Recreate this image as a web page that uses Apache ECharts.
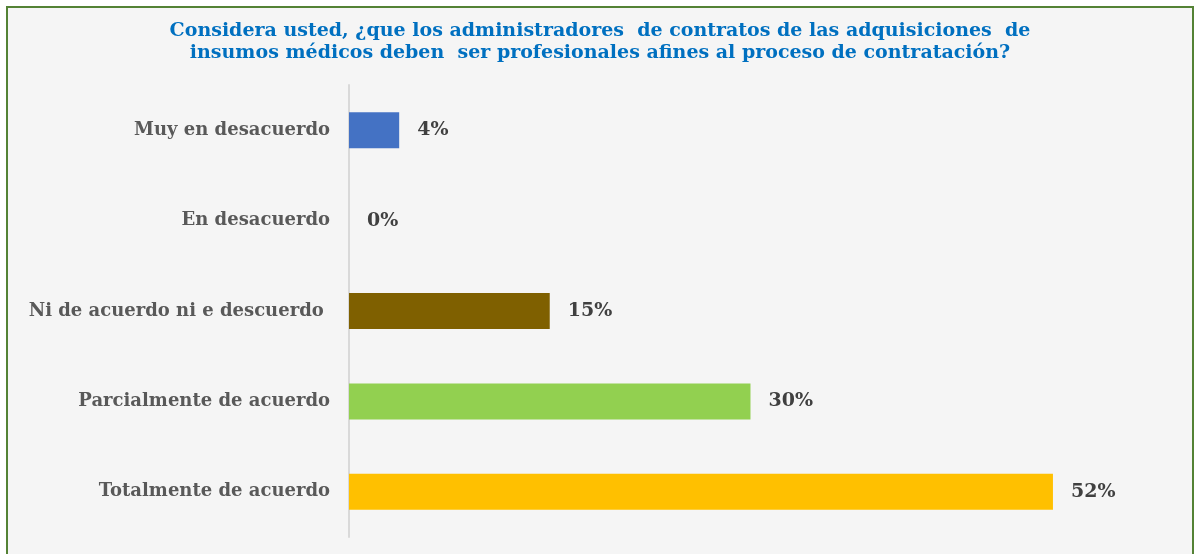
<!DOCTYPE html>
<html>
<head>
<meta charset="utf-8">
<script src="https://cdn.jsdelivr.net/npm/echarts@6/dist/echarts.min.js"></script>
<style>
  html, body { margin: 0; padding: 0; background: #ffffff; }
  #chart { width: 1200px; height: 554px; }
</style>
</head>
<body>
<div id="chart"></div>
<script>
var titleText = 'Considera usted, ¿que los administradores  de contratos de las adquisiciones  de\ninsumos médicos deben  ser profesionales afines al proceso de contratación?';
var categories = ['Muy en desacuerdo', 'En desacuerdo', 'Ni de acuerdo ni e descuerdo ', 'Parcialmente de acuerdo', 'Totalmente de acuerdo'];
var percents = [3.7, 0, 14.8, 29.6, 51.9];
var barColors = ['#4472c4', '#a5a5a5', '#7f6000', '#92d050', '#ffc000'];

var myChart = echarts.init(document.getElementById('chart'));

var seriesData = percents.map(function (v, i) {
    return { value: v, itemStyle: { color: barColors[i] } };
});

var option = {
    backgroundColor: '#ffffff',
    animation: false,
    graphic: [{
        type: 'rect',
        z: -10,
        shape: { x: 7, y: 7, width: 1186, height: 570 },
        style: { fill: '#f5f5f5', stroke: '#548235', lineWidth: 2 }
    }],
    title: {
        text: titleText,
        left: 'center',
        top: 15,
        textStyle: {
            fontFamily: 'DejaVu Serif',
            fontWeight: 'bold',
            fontSize: 19,
            lineHeight: 22,
            color: '#0070c0'
        }
    },
    grid: { left: 349, right: 105, top: 85, bottom: 17 },
    xAxis: {
        type: 'value',
        min: 0,
        max: 55,
        show: false
    },
    yAxis: {
        type: 'category',
        data: categories,
        inverse: true,
        axisLine: { show: true, lineStyle: { color: '#d9d9d9', width: 2 } },
        axisTick: { show: false },
        axisLabel: {
            margin: 19,
            fontFamily: 'DejaVu Serif',
            fontWeight: 'bold',
            fontSize: 18,
            color: '#595959'
        }
    },
    series: [{
        type: 'bar',
        data: seriesData,
        barWidth: 36,
        label: {
            show: true,
            position: 'right',
            distance: 18,
            fontFamily: 'DejaVu Serif',
            fontWeight: 'bold',
            fontSize: 19,
            color: '#404040',
            formatter: function (p) { return Math.round(p.value) + '%'; }
        }
    }]
};

myChart.setOption(option);
window.onresize = function () { myChart.resize(); };
</script>
</body>
</html>
